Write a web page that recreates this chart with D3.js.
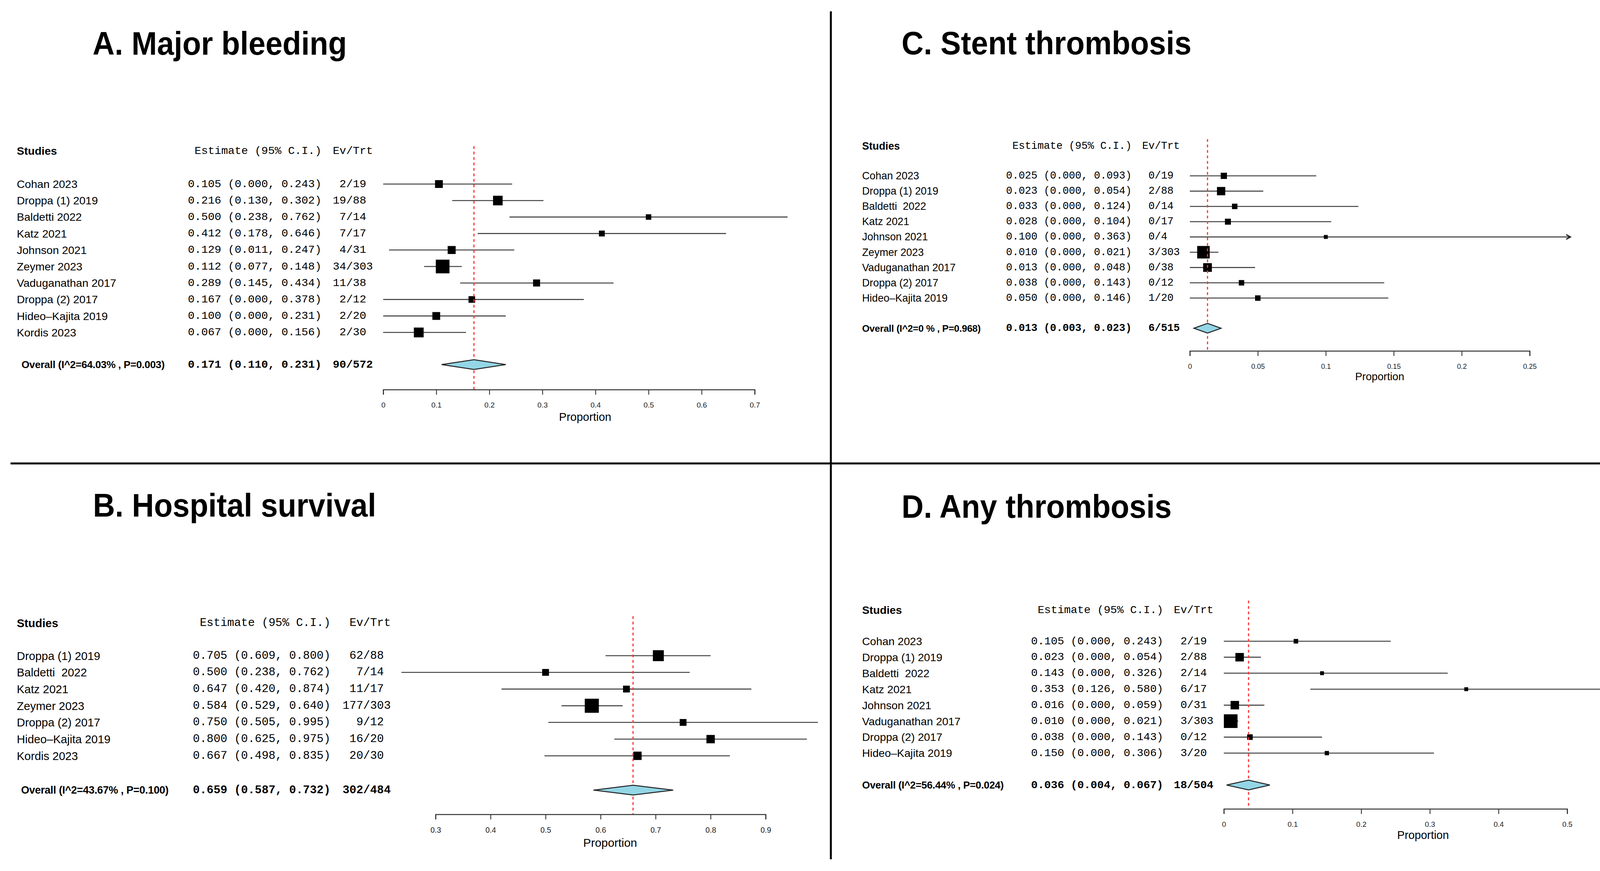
<!DOCTYPE html>
<html lang="en">
<head>
<meta charset="UTF-8">
<title>Forest plots</title>
<style>
  body { margin: 0; background: #fff; }
  text { white-space: pre; }
</style>
</head>
<body>
<div id="chart"></div>
<script src="https://cdn.jsdelivr.net/npm/d3@7"></script>
<script>
// ---- data ----
// A. Major bleeding
const studiesA = ["Cohan 2023", "Droppa (1) 2019", "Baldetti 2022", "Katz 2021", "Johnson 2021",
  "Zeymer 2023", "Vaduganathan 2017", "Droppa (2) 2017", "Hideo\u2013Kajita 2019", "Kordis 2023"]
const estA = [0.105, 0.216, 0.500, 0.412, 0.129, 0.112, 0.289, 0.167, 0.100, 0.067]
const loA = [0.000, 0.130, 0.238, 0.178, 0.011, 0.077, 0.145, 0.000, 0.000, 0.000]
const hiA = [0.243, 0.302, 0.762, 0.646, 0.247, 0.148, 0.434, 0.378, 0.231, 0.156]
const evA = [2, 19, 7, 7, 4, 34, 11, 2, 2, 2]
const nA = [19, 88, 14, 17, 31, 303, 38, 12, 20, 30]
const wA = [8.5, 12.8, 4.2, 4.8, 8.9, 26.0, 6.9, 6.1, 8.5, 13.3]
const overallA = [0.171, 0.110, 0.231, 90, 572]
const hetA = "Overall (I^2=64.03% , P=0.003)"
const ticksA = [0, 0.1, 0.2, 0.3, 0.4, 0.5, 0.6, 0.7]

// B. Hospital survival
const studiesB = ["Droppa (1) 2019", "Baldetti  2022", "Katz 2021", "Zeymer 2023",
  "Droppa (2) 2017", "Hideo\u2013Kajita 2019", "Kordis 2023"]
const estB = [0.705, 0.500, 0.647, 0.584, 0.750, 0.800, 0.667]
const loB = [0.609, 0.238, 0.420, 0.529, 0.505, 0.625, 0.498]
const hiB = [0.800, 0.762, 0.874, 0.640, 0.995, 0.975, 0.835]
const evB = [62, 7, 11, 177, 9, 16, 20]
const nB = [88, 14, 17, 303, 12, 20, 30]
const wB = [20.1, 7.8, 7.8, 33.2, 7.8, 11.7, 11.7]
const overallB = [0.659, 0.587, 0.732, 302, 484]
const hetB = "Overall (I^2=43.67% , P=0.100)"
const ticksB = [0.3, 0.4, 0.5, 0.6, 0.7, 0.8, 0.9]

// C. Stent thrombosis
const studiesC = ["Cohan 2023", "Droppa (1) 2019", "Baldetti  2022", "Katz 2021", "Johnson 2021",
  "Zeymer 2023", "Vaduganathan 2017", "Droppa (2) 2017", "Hideo\u2013Kajita 2019"]
const estC = [0.025, 0.023, 0.033, 0.028, 0.100, 0.010, 0.013, 0.038, 0.050]
const loC = [0, 0, 0, 0, 0, 0, 0, 0, 0]
const hiC = [0.093, 0.054, 0.124, 0.104, 0.363, 0.021, 0.048, 0.143, 0.146]
const evC = [0, 2, 0, 0, 0, 3, 0, 0, 1]
const nC = [19, 88, 14, 17, 4, 303, 38, 12, 20]
const wC = [8.1, 14.4, 6.2, 7.4, 3.2, 32.5, 15.8, 6.2, 6.2]
const overallC = [0.013, 0.003, 0.023, 6, 515]
const hetC = "Overall (I^2=0 % , P=0.968)"
const ticksC = [0, 0.05, 0.1, 0.15, 0.2, 0.25]

// D. Any thrombosis
const studiesD = ["Cohan 2023", "Droppa (1) 2019", "Baldetti  2022", "Katz 2021", "Johnson 2021",
  "Vaduganathan 2017", "Droppa (2) 2017", "Hideo\u2013Kajita 2019"]
const estD = [0.105, 0.023, 0.143, 0.353, 0.016, 0.010, 0.038, 0.150]
const loD = [0, 0, 0, 0.126, 0, 0, 0, 0]
const hiD = [0.243, 0.054, 0.326, 0.580, 0.059, 0.021, 0.143, 0.306]
const evD = [2, 2, 2, 6, 0, 3, 0, 3]
const nD = [19, 88, 14, 17, 31, 303, 12, 20]
const wD = [4.8, 16.6, 3.5, 3.5, 16.6, 43.3, 7.2, 4.3]
const overallD = [0.036, 0.004, 0.067, 18, 504]
const hetD = "Overall (I^2=56.44% , P=0.024)"
const ticksD = [0, 0.1, 0.2, 0.3, 0.4, 0.5]

// ---- canvas ----
const width = 4201
const height = 2229
const sans = "'Liberation Sans', Arial, Helvetica, sans-serif"
const mono = "'Liberation Mono', 'Courier New', monospace"
const f3 = d3.format(".3f")

const svg = d3.select("#chart").append("svg")
  .attr("width", width).attr("height", height)
  .style("display", "block")
svg.append("rect").attr("width", width).attr("height", height).attr("fill", "#fff")

// panel dividers
svg.append("line").attr("x1", 2127).attr("x2", 2127).attr("y1", 29).attr("y2", 2199)
  .attr("stroke", "#000").attr("stroke-width", 5)
svg.append("line").attr("x1", 27).attr("x2", 4177).attr("y1", 1186).attr("y2", 1186)
  .attr("stroke", "#000").attr("stroke-width", 5)

const drawPanel = (p) => {
  const g = svg.append("g")
  const fs = 28.5 * p.fs        // base text size
  const cw = 0.6 * fs           // mono char width
  const rows = p.names.map((name, i) => ({
    name, est: p.est[i], lo: p.lo[i], hi: p.hi[i], ev: p.ev[i], n: p.n[i], w: p.w[i]
  }))

  const x = d3.scaleLinear().domain([p.ticks[0], p.ticks[p.ticks.length - 1]]).range(p.xRange)
  const y = d3.scaleLinear().domain([0, rows.length - 1])
    .range([p.row0, p.row0 + (rows.length - 1) * p.rowStep])
  const box = d3.scaleSqrt().domain([0, d3.max(p.w)]).range([0, p.maxBox])

  // events are padded so the slashes line up (monospace)
  const evWidth = d3.max(p.ev.concat([p.overall[3]]), d => String(d).length)
  const evText = (e, n) => String(e).padStart(evWidth, "\u00A0") + "/" + n
  const evLen = evWidth + 1 + d3.max(p.n.concat([p.overall[4]]), d => String(d).length)

  // title
  g.append("text")
    .attr("transform", `translate(${p.titleX},${p.titleY}) scale(0.93,1)`)
    .attr("font-family", sans).attr("font-weight", "bold").attr("font-size", 84)
    .text(p.title)

  // headers
  g.append("text").attr("x", p.nameX).attr("y", p.headY).attr("dominant-baseline", "central")
    .attr("font-family", sans).attr("font-weight", "bold").attr("font-size", fs).text("Studies")
  g.append("text").attr("x", p.estRight).attr("y", p.headY).attr("dominant-baseline", "central")
    .attr("text-anchor", "end").attr("font-family", mono).attr("font-size", fs)
    .text("Estimate (95% C.I.)")
  g.append("text").attr("x", p.evLeft + evLen * cw).attr("y", p.headY).attr("dominant-baseline", "central")
    .attr("text-anchor", "end").attr("font-family", mono).attr("font-size", fs).text("Ev/Trt")

  // study rows text
  const rowG = g.selectAll(".row").data(rows).enter().append("g")
  rowG.append("text").attr("x", p.nameX).attr("y", (d, i) => y(i)).attr("dominant-baseline", "central")
    .attr("font-family", sans).attr("font-size", fs).attr("xml:space", "preserve").text(d => d.name)
  rowG.append("text").attr("x", p.estRight).attr("y", (d, i) => y(i)).attr("dominant-baseline", "central")
    .attr("text-anchor", "end").attr("font-family", mono).attr("font-size", fs)
    .text(d => `${f3(d.est)} (${f3(d.lo)}, ${f3(d.hi)})`)
  rowG.append("text").attr("x", p.evLeft).attr("y", (d, i) => y(i)).attr("dominant-baseline", "central")
    .attr("font-family", mono).attr("font-size", fs).text(d => evText(d.ev, d.n))

  // CI lines (clipped with an arrow where the interval runs off the plot)
  const top = p.clipMax !== undefined ? p.clipMax : Infinity
  rowG.append("line")
    .attr("x1", d => x(d.lo)).attr("x2", d => x(Math.min(d.hi, top)))
    .attr("y1", (d, i) => y(i)).attr("y2", (d, i) => y(i))
    .attr("stroke", "#444").attr("stroke-width", 2.6)
  rowG.filter(d => d.hi > top).append("path")
    .attr("d", d => {
      const xe = x(top), ye = y(rows.indexOf(d))
      return `M${xe - 11},${ye - 6} L${xe},${ye} L${xe - 11},${ye + 6}`
    })
    .attr("fill", "none").attr("stroke", "#222").attr("stroke-width", 3)

  // dashed line at the pooled estimate
  g.append("line").attr("x1", x(p.overall[0])).attr("x2", x(p.overall[0]))
    .attr("y1", p.dashTop).attr("y2", p.axisY)
    .attr("stroke", "#ff3535").attr("stroke-width", 3).attr("stroke-dasharray", "7,7")

  // weight boxes
  rowG.append("rect")
    .attr("x", d => x(d.est) - box(d.w) / 2)
    .attr("y", (d, i) => y(i) - box(d.w) / 2)
    .attr("width", d => box(d.w)).attr("height", d => box(d.w))
    .attr("fill", "#000")

  // overall row
  const o = p.overall
  g.append("text").attr("x", p.overallX).attr("y", p.overallY).attr("dominant-baseline", "central")
    .attr("font-family", sans).attr("font-weight", "bold").attr("font-size", fs * 0.92)
    .attr("letter-spacing", -0.3).text(p.het)
  g.append("text").attr("x", p.estRight).attr("y", p.overallY).attr("dominant-baseline", "central")
    .attr("text-anchor", "end").attr("font-family", mono).attr("font-weight", "bold").attr("font-size", fs)
    .text(`${f3(o[0])} (${f3(o[1])}, ${f3(o[2])})`)
  g.append("text").attr("x", p.evLeft).attr("y", p.overallY).attr("dominant-baseline", "central")
    .attr("font-family", mono).attr("font-weight", "bold").attr("font-size", fs).text(evText(o[3], o[4]))

  const hd = 12.5
  g.append("path")
    .attr("d", `M${x(o[1])},${p.overallY} L${x(o[0])},${p.overallY - hd} L${x(o[2])},${p.overallY} L${x(o[0])},${p.overallY + hd} Z`)
    .attr("fill", "#93d6e6").attr("stroke", "#222").attr("stroke-width", 2.5)

  // axis
  const axis = d3.axisBottom(x).tickValues(p.ticks).tickFormat(d3.format("~g"))
    .tickSizeOuter(0).tickSize(13).tickPadding(20)
  const ax = g.append("g").attr("transform", `translate(0,${p.axisY})`).call(axis)
  ax.select(".domain").attr("stroke", "#333").attr("stroke-width", 2.5)
  ax.selectAll(".tick line").attr("stroke", "#333").attr("stroke-width", 2.2)
  ax.selectAll(".tick text").attr("font-family", sans).attr("font-size", 19 * p.fs).attr("fill", "#222")

  g.append("text").attr("x", p.labelX).attr("y", p.labelY).attr("dominant-baseline", "central")
    .attr("text-anchor", "middle").attr("font-family", sans).attr("font-size", 29 * p.fs)
    .text("Proportion")
}

drawPanel({
  title: "A. Major bleeding", names: studiesA, est: estA, lo: loA, hi: hiA, ev: evA, n: nA, w: wA,
  overall: overallA, het: hetA, ticks: ticksA,
  titleX: 237, titleY: 140, nameX: 43, overallX: 55, estRight: 823, evLeft: 852, headY: 386,
  row0: 471, rowStep: 42.2, overallY: 933, xRange: [981, 1932], axisY: 997, dashTop: 374,
  labelX: 1498, labelY: 1067, maxBox: 35, fs: 1.0
})
drawPanel({
  title: "B. Hospital survival", names: studiesB, est: estB, lo: loB, hi: hiB, ev: evB, n: nB, w: wB,
  overall: overallB, het: hetB, ticks: ticksB,
  titleX: 238, titleY: 1322, nameX: 43, overallX: 54, estRight: 846, evLeft: 877, headY: 1594,
  row0: 1678, rowStep: 42.7, overallY: 2022, xRange: [1115, 1960], axisY: 2084, dashTop: 1577,
  labelX: 1562, labelY: 2156, maxBox: 36, fs: 1.03
})
drawPanel({
  title: "C. Stent thrombosis", names: studiesC, est: estC, lo: loC, hi: hiC, ev: evC, n: nC, w: wC,
  overall: overallC, het: hetC, ticks: ticksC,
  titleX: 2308, titleY: 139, nameX: 2207, overallX: 2207, estRight: 2897, evLeft: 2940, headY: 374,
  row0: 450, rowStep: 39.1, overallY: 840, xRange: [3046, 3916], axisY: 898, dashTop: 356,
  labelX: 3532, labelY: 963, maxBox: 32, fs: 0.94, clipMax: 0.28
})
drawPanel({
  title: "D. Any thrombosis", names: studiesD, est: estD, lo: loD, hi: hiD, ev: evD, n: nD, w: wD,
  overall: overallD, het: hetD, ticks: ticksD,
  titleX: 2308, titleY: 1325, nameX: 2207, overallX: 2207, estRight: 2978, evLeft: 3005, headY: 1561,
  row0: 1641, rowStep: 40.9, overallY: 2009, xRange: [3133, 4012], axisY: 2070, dashTop: 1537,
  labelX: 3643, labelY: 2137, maxBox: 35, fs: 0.99
})
</script>
</body>
</html>
